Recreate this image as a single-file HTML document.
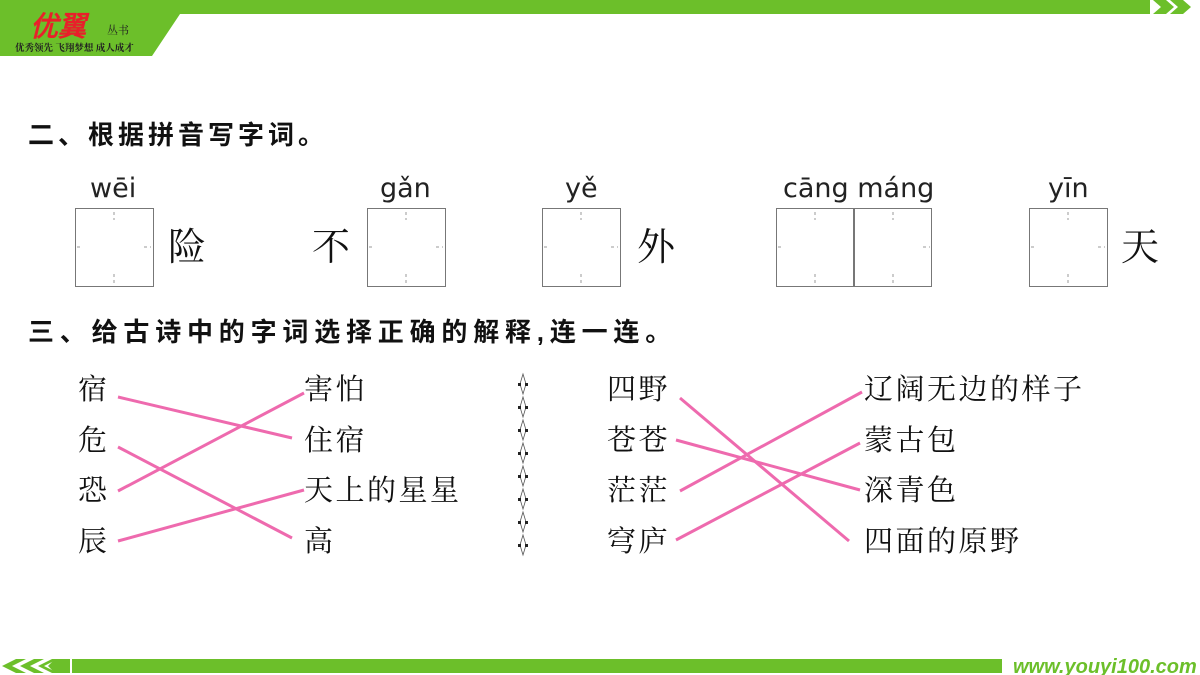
<!DOCTYPE html>
<html><head><meta charset="utf-8"><style>
body{margin:0;width:1200px;height:675px;position:relative;background:#fff;overflow:hidden;font-family:"Liberation Sans","Noto Sans CJK SC",sans-serif;}
.t{position:absolute;white-space:nowrap;line-height:1;}
.h{font-size:26px;font-weight:bold;letter-spacing:4px;color:#111;}
.py{font-size:27px;color:#222;font-family:"DejaVu Sans","Liberation Sans",sans-serif;}
.s{font-family:"Noto Serif CJK SC","Noto Sans CJK SC",serif;font-size:38px;color:#111;}
.w{font-family:"Noto Serif CJK SC","Noto Sans CJK SC",serif;font-size:29px;color:#111;letter-spacing:2.5px;}
.box{position:absolute;border:1.5px solid #777;box-sizing:border-box;width:79px;height:79px;top:208px;}
</style></head><body>
<svg width="1200" height="675" style="position:absolute;left:0;top:0">
<polygon points="0,0 1150,0 1150,14 180,14 152,56 0,56" fill="#6cbf2a"/>
<polygon points="1153,0 1166,0 1174,7 1166,14 1153,14 1161,7" fill="#6cbf2a"/>
<polygon points="1170,0 1183,0 1191,7 1183,14 1170,14 1178,7" fill="#6cbf2a"/>
<text x="30" y="36" font-family="Liberation Sans" font-style="italic" font-weight="bold" font-size="28" fill="#e8202a">优翼</text>
<text x="107" y="34" font-family="Noto Serif CJK SC" font-size="11" fill="#222">丛书</text>
<text x="15" y="51" font-family="Noto Serif CJK SC" font-size="9.5" font-weight="bold" fill="#222">优秀领先 飞翔梦想 成人成才</text>
<polygon points="55,659 70,659 70,673 55,673 48,666" fill="#6cbf2a"/>
<polygon points="72,659 1002,659 1002,673 72,673" fill="#6cbf2a"/>
<polygon points="2,666 16,659 26,659 12,666 26,673 16,673" fill="#6cbf2a"/>
<polygon points="20,666 34,659 44,659 30,666 44,673 34,673" fill="#6cbf2a"/>
<polygon points="38,666 52,659 58,659 44,666 58,673 52,673" fill="#6cbf2a"/>
<text x="1013" y="673" font-family="Liberation Sans" font-style="italic" font-weight="bold" font-size="20" fill="#6cbf2a">www.youyi100.com</text>
<g stroke="#ee6aae" stroke-width="3" fill="none">
<line x1="118" y1="397" x2="292" y2="438"/>
<line x1="118" y1="447" x2="292" y2="538"/>
<line x1="118" y1="491" x2="304" y2="393"/>
<line x1="118" y1="541" x2="304" y2="490"/>
<line x1="680" y1="398" x2="849" y2="541"/>
<line x1="676" y1="440" x2="860" y2="490"/>
<line x1="680" y1="491" x2="862" y2="392"/>
<line x1="676" y1="540" x2="860" y2="443"/>
</g>
<g stroke="#555" stroke-width="0.8" fill="none">
<path d="M523,374 l-3,10 l3,10 l3,-10 z M523,397 l-3,10 l3,10 l3,-10 z M523,420 l-3,10 l3,10 l3,-10 z M523,443 l-3,10 l3,10 l3,-10 z M523,466 l-3,10 l3,10 l3,-10 z M523,489 l-3,10 l3,10 l3,-10 z M523,512 l-3,10 l3,10 l3,-10 z M523,535 l-3,10 l3,10 l3,-10 z"/>
</g>
<g fill="#222">
<rect x="518" y="383" width="3" height="3"/><rect x="525" y="383" width="3" height="3"/>
<rect x="518" y="406" width="3" height="3"/><rect x="525" y="406" width="3" height="3"/>
<rect x="518" y="429" width="3" height="3"/><rect x="525" y="429" width="3" height="3"/>
<rect x="518" y="452" width="3" height="3"/><rect x="525" y="452" width="3" height="3"/>
<rect x="518" y="475" width="3" height="3"/><rect x="525" y="475" width="3" height="3"/>
<rect x="518" y="498" width="3" height="3"/><rect x="525" y="498" width="3" height="3"/>
<rect x="518" y="521" width="3" height="3"/><rect x="525" y="521" width="3" height="3"/>
<rect x="518" y="544" width="3" height="3"/><rect x="525" y="544" width="3" height="3"/>
</g>
<g stroke="#999" stroke-width="1" stroke-dasharray="3,3">
<line x1="114" y1="212" x2="114" y2="220"/><line x1="114" y1="274" x2="114" y2="283"/>
<line x1="406" y1="212" x2="406" y2="220"/><line x1="406" y1="274" x2="406" y2="283"/>
<line x1="581" y1="212" x2="581" y2="220"/><line x1="581" y1="274" x2="581" y2="283"/>
<line x1="815" y1="212" x2="815" y2="220"/><line x1="815" y1="274" x2="815" y2="283"/>
<line x1="893" y1="212" x2="893" y2="220"/><line x1="893" y1="274" x2="893" y2="283"/>
<line x1="1068" y1="212" x2="1068" y2="220"/><line x1="1068" y1="274" x2="1068" y2="283"/>
<line x1="77" y1="247" x2="83" y2="247"/><line x1="144" y1="247" x2="151" y2="247"/>
<line x1="369" y1="247" x2="375" y2="247"/><line x1="436" y1="247" x2="443" y2="247"/>
<line x1="544" y1="247" x2="550" y2="247"/><line x1="611" y1="247" x2="618" y2="247"/>
<line x1="778" y1="247" x2="784" y2="247"/><line x1="923" y1="247" x2="930" y2="247"/>
<line x1="1031" y1="247" x2="1037" y2="247"/><line x1="1098" y1="247" x2="1105" y2="247"/>
</g>
</svg>
<div class="t h" style="left:28px;top:122px">二、根据拼音写字词。</div>
<div class="t h" style="left:28px;top:319px;letter-spacing:5.8px">三、给古诗中的字词选择正确的解释,连一连。</div>
<div class="t py" style="left:90px;top:175px">wēi</div>
<div class="t py" style="left:380px;top:175px">gǎn</div>
<div class="t py" style="left:565px;top:175px">yě</div>
<div class="t py" style="left:783px;top:175px">cāng máng</div>
<div class="t py" style="left:1048px;top:175px">yīn</div>
<div class="box" style="left:75px"></div>
<div class="box" style="left:367px"></div>
<div class="box" style="left:542px"></div>
<div class="box" style="left:776px"></div>
<div class="box" style="left:853px"></div>
<div class="box" style="left:1029px"></div>
<div class="t s" style="left:168px;top:225px">险</div>
<div class="t s" style="left:312px;top:225px">不</div>
<div class="t s" style="left:637px;top:225px">外</div>
<div class="t s" style="left:1121px;top:225px">天</div>
<div class="t w" style="left:78px;top:373px">宿</div>
<div class="t w" style="left:78px;top:424px">危</div>
<div class="t w" style="left:78px;top:474px">恐</div>
<div class="t w" style="left:78px;top:525px">辰</div>
<div class="t w" style="left:304px;top:373px">害怕</div>
<div class="t w" style="left:304px;top:424px">住宿</div>
<div class="t w" style="left:304px;top:474px">天上的星星</div>
<div class="t w" style="left:304px;top:525px">高</div>
<div class="t w" style="left:607px;top:373px">四野</div>
<div class="t w" style="left:607px;top:424px">苍苍</div>
<div class="t w" style="left:607px;top:474px">茫茫</div>
<div class="t w" style="left:607px;top:525px">穹庐</div>
<div class="t w" style="left:864px;top:373px">辽阔无边的样子</div>
<div class="t w" style="left:864px;top:424px">蒙古包</div>
<div class="t w" style="left:864px;top:474px">深青色</div>
<div class="t w" style="left:864px;top:525px">四面的原野</div>
</body></html>
